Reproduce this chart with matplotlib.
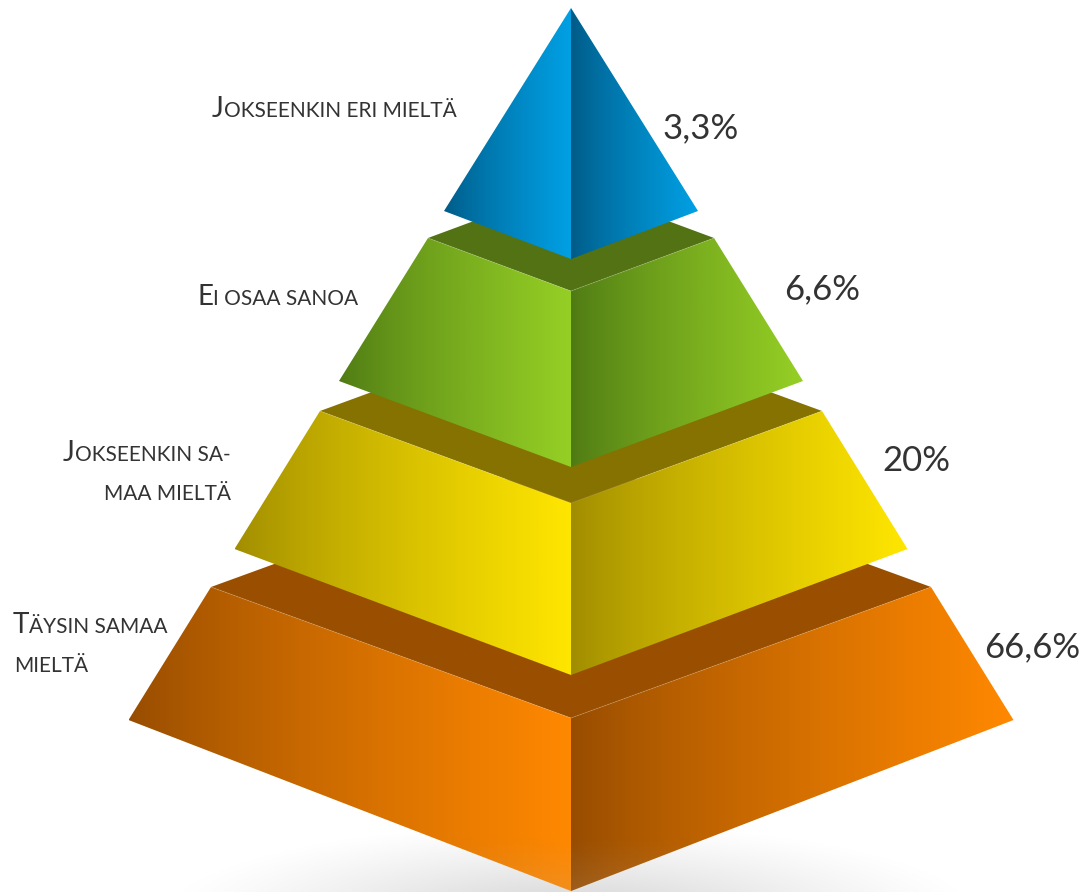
import numpy as np
import matplotlib
matplotlib.use('Agg')
import matplotlib.pyplot as plt
from matplotlib.colors import LinearSegmentedColormap
from matplotlib.patches import Polygon

# Tiers from the bottom of the pyramid to the tip
percents = ['66,6%', '20%', '6,6%', '3,3%']

# Tier outline in canvas pixels, y grows downwards
top_half = [360, 251, 143, 0]
top_side_y = [587, 411, 238, 8]
top_front_y = [718, 503, 291, 8]
bottom_half = [442.5, 336.5, 232, 127]
bottom_side_y = [720, 549, 381, 211]
bottom_front_y = [891, 675, 467, 259]

# Face colours: dark end, bright end, shelf
dark_colors = ['#964c00', '#a08c00', '#4f7a14', '#005a86']
bright_colors = ['#ff8800', '#ffe600', '#95cf25', '#00a0e4']
shelf_colors = ['#9a4f00', '#857200', '#527214', None]

# Label runs: (text, big) pieces per line, with anchor x, baseline y, alignment
label_lines = [
    ([('J', True), ('OKSEENKIN ERI MIELTÄ', False)], 212, 117, 'left'),
    ([('E', True), ('I OSAA SANOA', False)], 197, 305, 'left'),
    ([('J', True), ('OKSEENKIN SA-', False)], 63, 461, 'left'),
    ([('MAA MIELTÄ', False)], 231, 500, 'right'),
    ([('T', True), ('ÄYSIN SAMAA', False)], 13, 633, 'left'),
    ([('MIELTÄ', False)], 14, 672, 'left'),
]

percent_x = [984, 882, 784, 663]
percent_y = [657, 471, 299, 138]

cx = 571
text_color = '#333333'
big_size = 20
small_size = 15
percent_size = 25

plt.rcParams['font.family'] = ['Lato', 'DejaVu Sans']

fig = plt.figure(figsize=(10.88, 8.92), dpi=100)
ax = fig.add_axes([0, 0, 1, 1])
ax.set_xlim(0, 1088)
ax.set_ylim(892, 0)
ax.axis('off')


def gradient_face(points, x0, x1, dark, bright, zorder):
    # horizontal ramp clipped to the face outline
    cmap = LinearSegmentedColormap.from_list('face', [dark, bright])
    ramp = (np.linspace(0, 1, 256) ** 0.8).reshape(1, -1)
    im = ax.imshow(ramp, cmap=cmap, vmin=0, vmax=1, extent=[x0, x1, 892, 0], aspect='auto',
                   interpolation='bilinear', zorder=zorder)
    face = Polygon(points, closed=True, transform=ax.transData, fill=False, edgecolor='none')
    ax.add_patch(face)
    im.set_clip_path(face)
    return face


# Soft shadow under the base
xx, yy = np.meshgrid(np.linspace(150, 990, 300), np.linspace(790, 892, 80))
dist = np.sqrt(((xx - cx) / 420) ** 2 + ((yy - 915) / 95) ** 2)
shadow = np.zeros(xx.shape + (4,))
shadow[..., 3] = 0.13 * np.clip(1 - dist, 0, 1) ** 1.2 / 0.76 ** 1.2
ax.imshow(shadow, extent=[150, 990, 892, 790], aspect='auto', zorder=0,
          interpolation='bilinear')

for i in range(4):
    z = 1 + i * 3
    tl = (cx - top_half[i], top_side_y[i])
    tf = (cx, top_front_y[i])
    tr = (cx + top_half[i], top_side_y[i])
    bl = (cx - bottom_half[i], bottom_side_y[i])
    bf = (cx, bottom_front_y[i])
    br = (cx + bottom_half[i], bottom_side_y[i])

    # Top shelf seen from above, the next tier covers its back half
    if shelf_colors[i] is not None:
        back = (cx, 2 * top_side_y[i] - top_front_y[i])
        ax.add_patch(Polygon([tl, back, tr, tf], closed=True, facecolor=shelf_colors[i],
                             edgecolor='none', zorder=z))

    gradient_face([tl, tf, bf, bl], bl[0], cx, dark_colors[i], bright_colors[i], z + 1)
    gradient_face([tf, tr, br, bf], cx, br[0], dark_colors[i], bright_colors[i], z + 1)

    # Light seam along the top edges of the faces
    if shelf_colors[i] is not None:
        ax.plot([tl[0], tf[0], tr[0]], [tl[1], tf[1], tr[1]], color='white', alpha=0.12,
                lw=0.8, zorder=z + 2)

# Pale fade over the tip of the base
fade = np.zeros((64, 1, 4))
fade[..., :3] = 0.72
fade[:, 0, 3] = np.linspace(0, 0.22, 64) ** 1.2
im = ax.imshow(fade, extent=[cx - 120, cx + 120, 892, 835], aspect='auto', zorder=3,
               interpolation='bilinear')
tip = Polygon([(cx - bottom_half[0], bottom_side_y[0]), (cx, bottom_front_y[0]),
               (cx + bottom_half[0], bottom_side_y[0]), (cx, 718)], closed=True,
              transform=ax.transData, fill=False, edgecolor='none')
ax.add_patch(tip)
im.set_clip_path(tip)

renderer = fig.canvas.get_renderer()

# Small caps are set as runs of big and small capitals on one baseline
for runs, x, y, align in label_lines:
    pieces = [ax.text(0, y, s, fontsize=big_size if big else small_size, color=text_color,
                      ha='left', va='baseline', zorder=20) for s, big in runs]
    widths = [p.get_window_extent(renderer).width for p in pieces]
    pos = x if align == 'left' else x - sum(widths)
    for p, w in zip(pieces, widths):
        p.set_x(pos)
        pos += w

for s, x, y in zip(percents, percent_x, percent_y):
    ax.text(x, y, s, fontsize=percent_size, color=text_color, ha='left', va='baseline', zorder=20)

ax.set_xlim(0, 1088)
ax.set_ylim(892, 0)
fig.savefig('out.png', dpi=100, facecolor='white')
